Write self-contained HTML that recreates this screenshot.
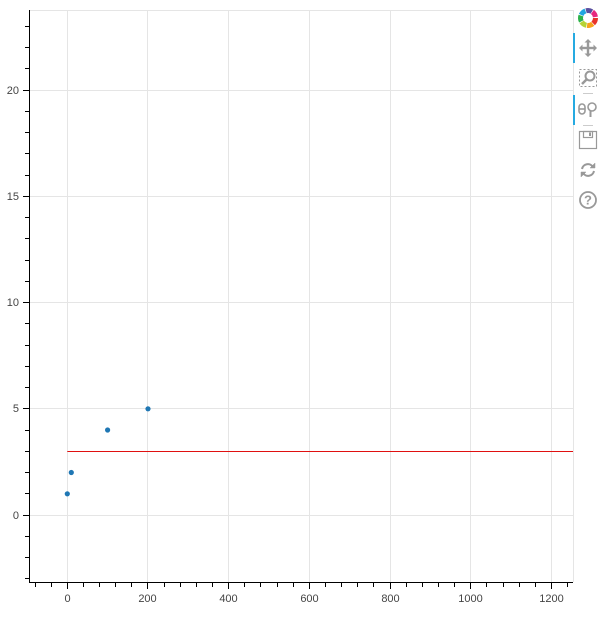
<!DOCTYPE html>
<html><head><meta charset="utf-8"><style>
html,body{margin:0;padding:0;background:#fff;}
svg{display:block;}
text{font-family:"Liberation Sans",Helvetica,Arial,sans-serif;font-size:11px;fill:#444;}
</style></head><body>
<svg width="601" height="621" viewBox="0 0 601 621" xmlns="http://www.w3.org/2000/svg">
<rect width="601" height="621" fill="#fff"/>
<!-- grid -->
<g stroke="#e5e5e5" stroke-width="1" fill="none">
<path d="M67.5 10V582M147.5 10V582M228.5 10V582M309.5 10V582M390.5 10V582M470.5 10V582M551.5 10V582"/>
<path d="M30 515.5H573M30 408.5H573M30 302.5H573M30 196.5H573M30 90.5H573"/>
<!-- outline -->
<path d="M29.5 10.5H573.5V582"/>
</g>
<!-- line -->
<path d="M67.3 451.5H573" stroke="#e01010" stroke-width="1" fill="none"/>
<!-- points -->
<g fill="#1f77b4">
<circle cx="67.3" cy="493.8" r="2.6"/>
<circle cx="71.3" cy="472.5" r="2.6"/>
<circle cx="107.6" cy="430" r="2.6"/>
<circle cx="148" cy="408.8" r="2.6"/>
</g>
<!-- axes -->
<g stroke="#000" stroke-width="1" fill="none">
<path d="M29.5 10V583M29 582.5H573"/>
<path d="M23 515.5H30M23 408.5H30M23 302.5H30M23 196.5H30M23 90.5H30"/>
<path d="M25 578.5H30M25 557.5H30M25 536.5H30M25 493.5H30M25 472.5H30M25 451.5H30M25 430.5H30M25 387.5H30M25 366.5H30M25 345.5H30M25 323.5H30M25 281.5H30M25 260.5H30M25 238.5H30M25 217.5H30M25 175.5H30M25 153.5H30M25 132.5H30M25 111.5H30M25 68.5H30M25 47.5H30M25 26.5H30"/>
<path d="M67.5 582V589M147.5 582V589M228.5 582V589M309.5 582V589M390.5 582V589M470.5 582V589M551.5 582V589"/>
<path d="M35.5 582V587M51.5 582V587M83.5 582V587M99.5 582V587M115.5 582V587M131.5 582V587M164.5 582V587M180.5 582V587M196.5 582V587M212.5 582V587M244.5 582V587M260.5 582V587M277.5 582V587M293.5 582V587M325.5 582V587M341.5 582V587M357.5 582V587M373.5 582V587M406.5 582V587M422.5 582V587M438.5 582V587M454.5 582V587M486.5 582V587M503.5 582V587M519.5 582V587M535.5 582V587M567.5 582V587"/>
</g>
<!-- y labels -->
<g text-anchor="end">
<text x="19" y="519">0</text>
<text x="19" y="412">5</text>
<text x="19" y="306">10</text>
<text x="19" y="200">15</text>
<text x="19" y="94">20</text>
</g>
<!-- x labels -->
<g text-anchor="middle">
<text x="67.5" y="602">0</text>
<text x="147.5" y="602">200</text>
<text x="228.5" y="602">400</text>
<text x="309.5" y="602">600</text>
<text x="390.5" y="602">800</text>
<text x="470.5" y="602">1000</text>
<text x="551.5" y="602">1200</text>
</g>
<!-- toolbar -->
<g transform="translate(588,18)">
<circle r="7.5" fill="none" stroke="#e8332a" stroke-width="5" stroke-dasharray="6 60" transform="rotate(0)"/>
<circle r="7.5" fill="none" stroke="#f7a21b" stroke-width="5" stroke-dasharray="6 60" transform="rotate(51)"/>
<circle r="7.5" fill="none" stroke="#b6d335" stroke-width="5" stroke-dasharray="6 60" transform="rotate(102)"/>
<circle r="7.5" fill="none" stroke="#2cb24a" stroke-width="5" stroke-dasharray="6 60" transform="rotate(153)"/>
<circle r="7.5" fill="none" stroke="#1fa6e0" stroke-width="5" stroke-dasharray="6 60" transform="rotate(204)"/>
<circle r="7.5" fill="none" stroke="#5a4fa0" stroke-width="5" stroke-dasharray="6 60" transform="rotate(255)"/>
<circle r="7.5" fill="none" stroke="#e7287e" stroke-width="5" stroke-dasharray="6 60" transform="rotate(306)"/>
</g>
<rect x="573" y="33" width="2" height="30" fill="#26aae1"/>
<rect x="573" y="95" width="2" height="30" fill="#26aae1"/>
<path d="M583 93.5H593M583 125.5H593" stroke="#ccc" stroke-width="1"/>
<g transform="translate(588,48)" fill="#999" stroke="none">
<rect x="-7" y="-1.2" width="14" height="2.4"/>
<rect x="-1.2" y="-7" width="2.4" height="14"/>
<path d="M-9 0L-5.5 -3.5V3.5ZM9 0L5.5 -3.5V3.5ZM0 -9L-3.5 -5.5H3.5ZM0 9L-3.5 5.5H3.5Z"/>
</g>
<g transform="translate(588,78)" fill="none" stroke="#999">
<rect x="-8.5" y="-8.5" width="17" height="17" stroke-dasharray="2 2" stroke-width="1"/>
<circle cx="2" cy="-2" r="4.5" stroke-width="2"/>
<path d="M-1 1L-6 6" stroke-width="2.5"/>
</g>
<g transform="translate(588,109)" fill="none" stroke="#999" stroke-width="1.6">
<rect x="-9" y="-5" width="6" height="10" rx="3"/>
<path d="M-9 0H-3"/>
<circle cx="4" cy="-2" r="4"/>
<path d="M2.5 2V8" stroke-width="2"/>
</g>
<g transform="translate(588,140)" fill="none" stroke="#999" stroke-width="1.2">
<rect x="-8.5" y="-8.5" width="17" height="17"/>
<rect x="-4.5" y="-8.5" width="9" height="6"/>
<rect x="1" y="-7.5" width="2" height="3.5" fill="#999" stroke="none"/>
</g>
<g transform="translate(588,170)" fill="none" stroke="#999" stroke-width="2">
<path d="M-6 -1A6 6 0 0 1 5 -3"/>
<path d="M6 1A6 6 0 0 1 -5 3"/>
<path d="M7 -7V-2H2Z" fill="#999" stroke-width="0.5"/>
<path d="M-7 7V2H-2Z" fill="#999" stroke-width="0.5"/>
</g>
<g transform="translate(588,200)">
<circle r="8" fill="none" stroke="#999" stroke-width="1.8"/>
<text x="0" y="4.5" text-anchor="middle" style="font-size:13px;font-weight:bold;fill:#999">?</text>
</g>
</svg>
</body></html>
